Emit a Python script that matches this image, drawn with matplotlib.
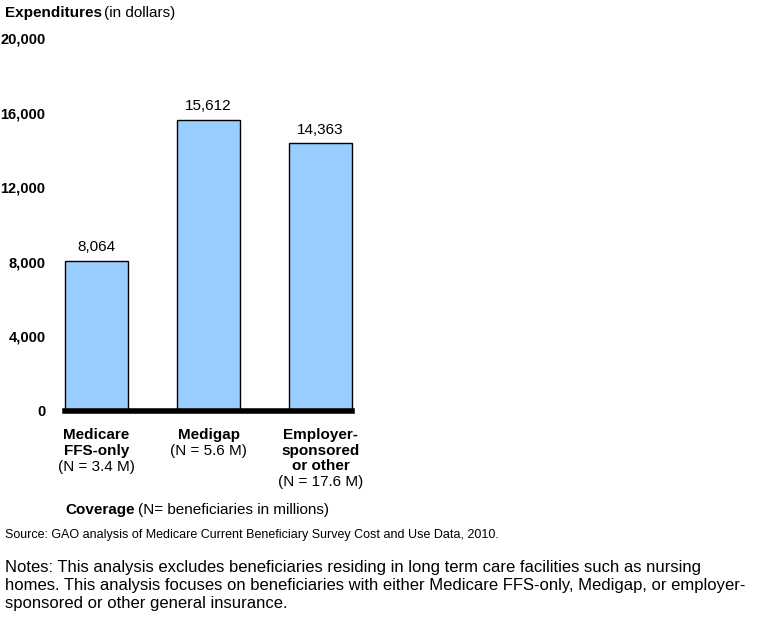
import matplotlib.pyplot as plt

plt.rcParams['font.family'] = ['Liberation Sans', 'DejaVu Sans']

categories = ["Medicare\nFFS-only", "Medigap", "Employer-\nsponsored\nor other"]
counts = ["(N = 3.4 M)", "(N = 5.6 M)", "(N = 17.6 M)"]
values = [8064, 15612, 14363]
yticks = [0, 4000, 8000, 12000, 16000, 20000]

W, H = 758, 634
fig = plt.figure(figsize=(W / 100, H / 100), dpi=100)
ax = fig.add_axes([65 / W, 223 / H, 287 / W, 373 / H])

x = list(range(len(values)))
bars = ax.bar(x, values, width=0.5625, color="#99CCFF", edgecolor="black", linewidth=1)
for b in bars:
    b.set_clip_on(False)
for xi, v in zip(x, values):
    ax.text(xi, v + 350, f"{v:,}", ha="center", va="bottom", fontsize=11)

ax.set_xlim(-0.28, 2.28)
ax.set_ylim(0, 20000)
ax.set_yticks(yticks)
ax.set_yticklabels([f"{t:,}" for t in yticks], fontweight="bold", fontsize=10.5)
ax.tick_params(axis="y", length=0, pad=14)
ax.set_xticks([])
for s in ["left", "right", "top"]:
    ax.spines[s].set_visible(False)
ax.spines["bottom"].set_linewidth(4)

# category labels: bold name, regular count line
for xi, cat, n in zip(x, categories, counts):
    px = xi * 112 + 96.5
    nlines = cat.count("\n") + 1
    fig.text(px / W, 1 - 428 / H, cat, ha="center", va="top", fontsize=11,
             fontweight="bold", linespacing=1.15)
    fig.text(px / W, 1 - (428 + nlines * 15.8) / H, n, ha="center", va="top", fontsize=11)

fig.text(65 / W, 1 - 503 / H, "Coverage", fontsize=11, fontweight="bold", va="top")
fig.text(138 / W, 1 - 503 / H, "(N= beneficiaries in millions)", fontsize=11, va="top")
fig.text(5 / W, 1 - 6 / H, "Expenditures", fontsize=11, fontweight="bold", va="top")
fig.text(104 / W, 1 - 6 / H, "(in dollars)", fontsize=11, va="top")
fig.text(5 / W, 1 - 529 / H,
         "Source: GAO analysis of Medicare Current Beneficiary Survey Cost and Use Data, 2010.",
         fontsize=9, va="top")
fig.text(5 / W, 1 - 560 / H,
         "Notes: This analysis excludes beneficiaries residing in long term care facilities such as nursing\n"
         "homes. This analysis focuses on beneficiaries with either Medicare FFS-only, Medigap, or employer-\n"
         "sponsored or other general insurance.",
         fontsize=12, va="top", linespacing=1.25)

fig.savefig("out.png", dpi=100)
